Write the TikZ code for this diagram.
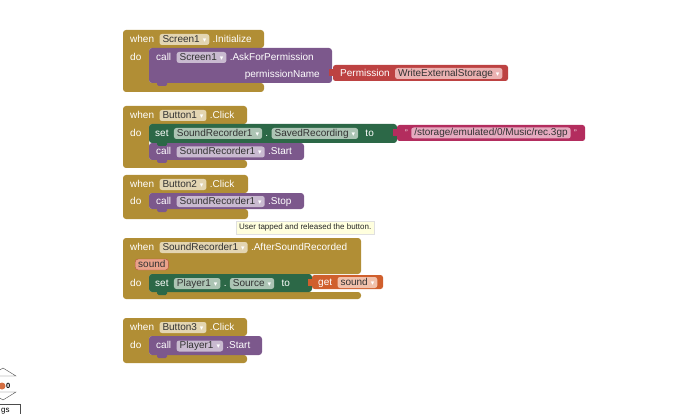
\documentclass[tikz,border=0pt]{standalone}
\usepackage{fontspec}
\setmainfont{Liberation Sans}
\newfontfamily\symfont{DejaVu Sans}
\usetikzlibrary{positioning}

\definecolor{evgold}{RGB}{177,142,53}
\definecolor{callpurple}{RGB}{124,88,140}
\definecolor{setgreen}{RGB}{44,104,71}
\definecolor{textmagenta}{RGB}{179,45,94}
\definecolor{permred}{RGB}{189,66,66}
\definecolor{getorange}{RGB}{208,95,45}
\definecolor{goldchip}{RGB}{227,213,178}
\definecolor{purplechip}{RGB}{201,186,208}
\definecolor{greenchip}{RGB}{172,196,180}
\definecolor{magentachip}{RGB}{229,170,191}
\definecolor{redchip}{RGB}{235,178,178}
\definecolor{orangechip}{RGB}{241,193,171}
\definecolor{paramfill}{RGB}{233,162,138}
\definecolor{paramline}{RGB}{181,82,60}
\definecolor{tipfill}{RGB}{255,255,222}

% dropdown arrow inside a field
\newcommand{\dd}{\hspace{3pt}{\color{white}\symfont\fontsize{7}{7}\selectfont ▾}}
% event block: top, head bottom, inner bottom, bottom, right edge
\newcommand{\eventbody}[5]{%
  \fill[evgold, rounded corners=3pt] (123,#1) -- (#5,#1) -- (#5,#2) -- (149,#2)
    -- (149,#3) -- (#5,#3) -- (#5,#4) -- (123,#4) -- cycle;}
% statement block: colour, top, bottom, right edge
\newcommand{\stmtbody}[4]{%
  \fill[#1, rounded corners=3pt] (149,#2) rectangle (#4,#3);
  \fill[#1, rounded corners=1.5pt] (157,#3-2) rectangle (167,#3+3);}
% value block: colour, left, top, bottom, right edge
\newcommand{\valbody}[5]{%
  \fill[#1, rounded corners=2.5pt] (#2,#3) rectangle (#5,#4);
  \fill[#1] (#2-4,#3+4) rectangle (#2+1,#3+11);}

\begin{document}
\begin{tikzpicture}[
    x=1pt, y=-1pt,
    every node/.style={font=\fontsize{10}{12}\selectfont, text height=7pt, text depth=1.2pt, inner sep=0pt},
    lbl/.style={text=white},
    chip/.style={fill=#1, text=black!80, rounded corners=2.5pt, inner xsep=3pt, inner ysep=1.4pt},
    param/.style={fill=paramfill, draw=paramline, text=black!80, rounded corners=3pt, inner xsep=3pt, inner ysep=1.4pt},
    tip/.style={fill=tipfill, draw=black!12, text=black!85, font=\fontsize{8}{10}\selectfont, text height=6pt, text depth=1.6pt, inner xsep=3pt, inner ysep=2.5pt}
]
    \useasboundingbox (0,0) rectangle (690,414);

    % Screen1.Initialize
    \eventbody{30}{48}{83}{92}{264}
    \node[lbl, anchor=west] (when1) at (130,39.5) {when};
    \node[chip=goldchip, right=5pt of when1] (scr1) {Screen1\dd};
    \node[lbl, right=3pt of scr1] (init1) {.Initialize};
    \node[lbl, anchor=west] (do1) at (130,57.5) {do};
    \stmtbody{callpurple}{48}{83}{332}
    \node[lbl, anchor=west] (call1) at (156,57.5) {call};
    \node[chip=purplechip, right=5pt of call1] (scr2) {Screen1\dd};
    \node[lbl, right=3pt of scr2] (ask1) {.AskForPermission};
    \node[lbl, anchor=east] (pname) at (320,74.5) {permissionName};
    \valbody{permred}{333}{65}{81}{508}
    \node[lbl, anchor=west] (perm) at (340,73.5) {Permission};
    \node[chip=redchip, right=5pt of perm] (wes) {WriteExternalStorage\dd};

    % Button1.Click
    \eventbody{106}{124}{160}{168}{247}
    \node[lbl, anchor=west] (when2) at (130,115.5) {when};
    \node[chip=goldchip, right=5pt of when2] (btn1) {Button1\dd};
    \node[lbl, right=3pt of btn1] (click1) {.Click};
    \node[lbl, anchor=west] (do2) at (130,133.5) {do};
    \stmtbody{callpurple}{143}{160}{304}
    \stmtbody{setgreen}{124}{143}{397}
    \node[lbl, anchor=west] (set1) at (155,133.5) {set};
    \node[chip=greenchip, right=5pt of set1] (rec1) {SoundRecorder1\dd};
    \node[lbl, right=3pt of rec1] (dot1) {.};
    \node[chip=greenchip, right=3pt of dot1] (saved) {SavedRecording\dd};
    \node[lbl, right=7pt of saved] (to1) {to};
    \valbody{textmagenta}{397}{125}{141}{585}
    \node[lbl, anchor=west] (q1) at (405,133) {\fontsize{8}{8}\selectfont "};
    \node[chip=magentachip, right=3pt of q1] (path) {/storage/emulated/0/Music/rec.3gp};
    \node[lbl, right=3pt of path] (q2) {\fontsize{8}{8}\selectfont "};
    \node[lbl, anchor=west] (call2) at (156,152) {call};
    \node[chip=purplechip, right=5pt of call2] (rec2) {SoundRecorder1\dd};
    \node[lbl, right=3pt of rec2] (start1) {.Start};

    % Button2.Click
    \eventbody{175}{193}{209}{219}{248}
    \node[lbl, anchor=west] (when3) at (130,184.5) {when};
    \node[chip=goldchip, right=5pt of when3] (btn2) {Button2\dd};
    \node[lbl, right=3pt of btn2] (click2) {.Click};
    \node[lbl, anchor=west] (do3) at (130,201.5) {do};
    \stmtbody{callpurple}{193}{209}{304}
    \node[lbl, anchor=west] (call3) at (156,201.5) {call};
    \node[chip=purplechip, right=5pt of call3] (rec3) {SoundRecorder1\dd};
    \node[lbl, right=3pt of rec3] (stop1) {.Stop};
    \node[tip, anchor=west] (tip1) at (236,227.5) {User tapped and released the button.};

    % SoundRecorder1.AfterSoundRecorded
    \eventbody{238}{274}{292}{299}{361}
    \node[lbl, anchor=west] (when4) at (130,247.5) {when};
    \node[chip=goldchip, right=5pt of when4] (rec4) {SoundRecorder1\dd};
    \node[lbl, right=3pt of rec4] (after1) {.AfterSoundRecorded};
    \node[param, anchor=west] (snd1) at (135,264.5) {sound};
    \node[lbl, anchor=west] (do4) at (130,283.5) {do};
    \stmtbody{setgreen}{274}{292}{312}
    \node[lbl, anchor=west] (set2) at (155,283.5) {set};
    \node[chip=greenchip, right=5pt of set2] (ply1) {Player1\dd};
    \node[lbl, right=3pt of ply1] (dot2) {.};
    \node[chip=greenchip, right=3pt of dot2] (src1) {Source\dd};
    \node[lbl, right=7pt of src1] (to2) {to};
    \valbody{getorange}{312}{275}{289}{383}
    \node[lbl, anchor=west] (get1) at (318,282.5) {get};
    \node[chip=orangechip, right=5pt of get1] (snd2) {sound\dd};

    % Button3.Click
    \eventbody{318}{336}{355}{363}{247}
    \node[lbl, anchor=west] (when5) at (130,327.5) {when};
    \node[chip=goldchip, right=5pt of when5] (btn3) {Button3\dd};
    \node[lbl, right=3pt of btn3] (click3) {.Click};
    \node[lbl, anchor=west] (do5) at (130,345.5) {do};
    \stmtbody{callpurple}{336}{355}{262}
    \node[lbl, anchor=west] (call4) at (156,346) {call};
    \node[chip=purplechip, right=5pt of call4] (ply2) {Player1\dd};
    \node[lbl, right=3pt of ply2] (start2) {.Start};

    % workspace controls, cut off at the left edge
    \draw[black!70] (-10,376) -- (3,368) -- (16,376) -- cycle;
    \fill[getorange!90] (2,386) circle (3.5pt);
    \node[anchor=west, font=\fontsize{7.5}{8}\selectfont\bfseries, text height=5.5pt, text depth=0pt] (zero) at (6,386) {0};
    \draw[black!70] (-10,392) -- (16,392) -- (3,400) -- cycle;
    \draw[black!70, fill=white] (-10,404) rectangle (20,418);
    \node[anchor=west, font=\fontsize{8}{9}\selectfont, text height=5.5pt, text depth=1.5pt] (ctl) at (1,410) {gs};
\end{tikzpicture}
\end{document}
